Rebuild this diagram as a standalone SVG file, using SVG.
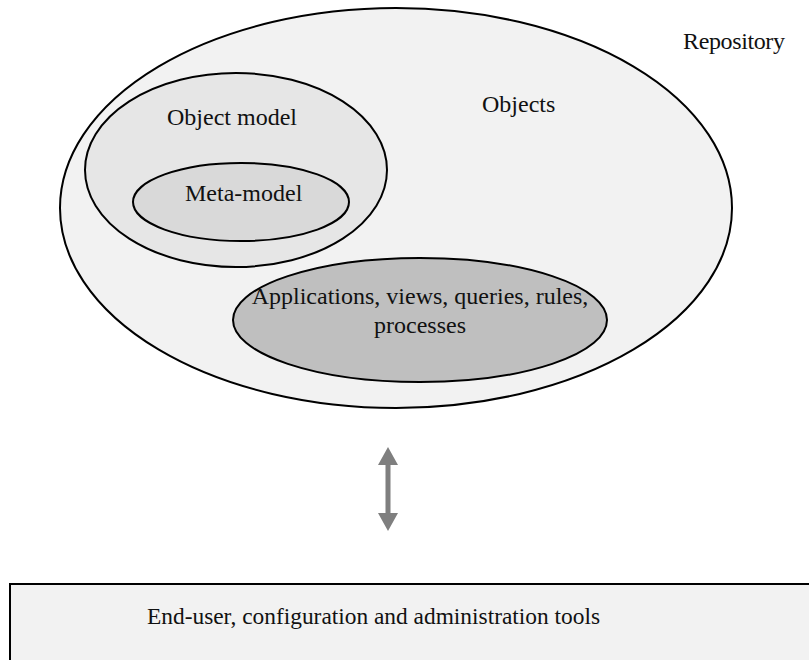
<svg xmlns="http://www.w3.org/2000/svg" width="809" height="660" viewBox="0 0 809 660">
  <style>
    .lbl { font-family: "Liberation Serif", "Times New Roman", serif; font-size: 24px; fill: #111; }
    .ell { stroke: #000; stroke-width: 2; }
  </style>
  <rect x="0" y="0" width="809" height="660" fill="#fff"/>
  <g id="repository">
    <ellipse class="ell" cx="396" cy="208" rx="336" ry="200" fill="#f2f2f2"/>
    <text class="lbl" x="683" y="49" font-size="20" textLength="102">Repository</text>
    <text class="lbl" x="482" y="112">Objects</text>
  </g>
  <g id="object-model">
    <ellipse class="ell" cx="236" cy="170" rx="151" ry="97" fill="#e6e6e6"/>
    <text class="lbl" x="167" y="125">Object model</text>
  </g>
  <g id="meta-model">
    <ellipse class="ell" cx="241" cy="202" rx="108" ry="39" fill="#d9d9d9"/>
    <text class="lbl" x="185" y="201">Meta-model</text>
  </g>
  <g id="applications">
    <ellipse class="ell" cx="420" cy="320" rx="187" ry="62" fill="#bfbfbf"/>
    <text class="lbl" x="420" y="304" text-anchor="middle">Applications, views, queries, rules,</text>
    <text class="lbl" x="420" y="333" text-anchor="middle">processes</text>
  </g>
  <g id="connectors">
    <path d="M388 447 L398 465 L390.5 465 L390.5 513 L398 513 L388 531 L378 513 L385.5 513 L385.5 465 L378 465 Z" fill="#7f7f7f"/>
  </g>
  <g id="tools">
    <rect x="10" y="584" width="810" height="100" fill="#f2f2f2" stroke="#000" stroke-width="2"/>
    <text class="lbl" x="147" y="624" textLength="453" lengthAdjust="spacingAndGlyphs">End-user, configuration and administration tools</text>
  </g>
</svg>
